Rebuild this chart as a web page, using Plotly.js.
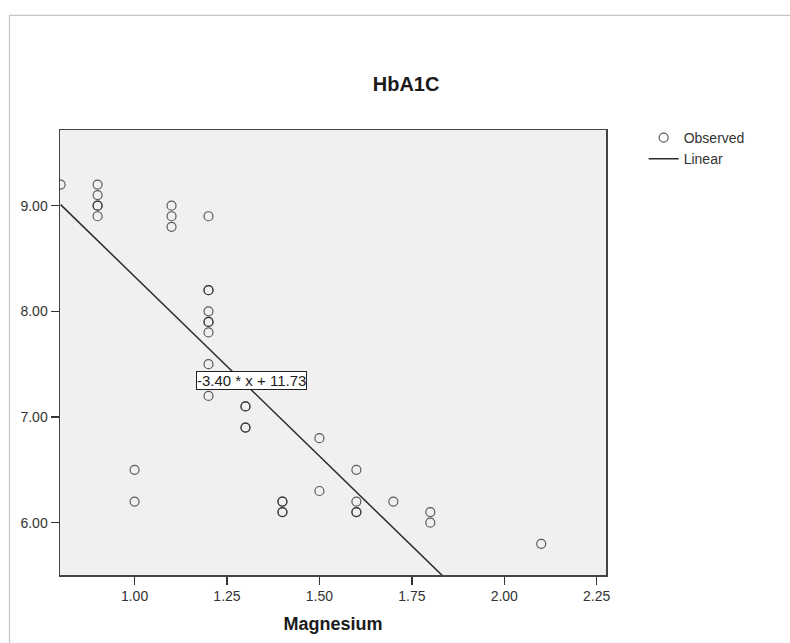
<!DOCTYPE html>
<html>
<head>
<meta charset="utf-8">
<script src="https://cdn.plot.ly/plotly-3.0.1.min.js"></script>
<style>
  html, body { margin: 0; padding: 0; background: #ffffff; }
  #chart { width: 790px; height: 643px; }
</style>
</head>
<body>
<div id="chart"></div>
<script>
// Observed values (duplicates = overlapping cases drawn darker)
const magnesium = [0.8, 0.9, 0.9, 0.9, 0.9, 0.9, 1.0, 1.0, 1.1, 1.1, 1.1,
  1.2, 1.2, 1.2, 1.2, 1.2, 1.2, 1.2, 1.2, 1.2,
  1.3, 1.3, 1.3, 1.3, 1.4, 1.4, 1.4, 1.4,
  1.5, 1.5, 1.6, 1.6, 1.6, 1.6, 1.7, 1.8, 1.8, 2.1];
const hba1c = [9.2, 9.2, 9.1, 9.0, 9.0, 8.9, 6.5, 6.2, 9.0, 8.9, 8.8,
  8.9, 8.2, 8.2, 8.0, 7.9, 7.9, 7.8, 7.5, 7.2,
  7.1, 7.1, 6.9, 6.9, 6.2, 6.2, 6.1, 6.1,
  6.8, 6.3, 6.5, 6.2, 6.1, 6.1, 6.2, 6.1, 6.0, 5.8];

// Linear fit reported in the chart
const slope = -3.40;
const intercept = 11.73;

const xTicks = [1.00, 1.25, 1.50, 1.75, 2.00, 2.25];
const yTicks = [6.00, 7.00, 8.00, 9.00];

const xMin = Math.min(...magnesium);
const xMax = Math.max(...magnesium);
const fitX = [xMin, xMax];
const fitY = fitX.map(v => slope * v + intercept);

const FONT = 'Arial, "Liberation Sans", sans-serif';

const traces = [
  {
    type: 'scatter', mode: 'markers', name: 'Observed',
    x: magnesium, y: hba1c,
    marker: { symbol: 'circle-open', size: 9, color: 'rgba(40,40,40,0.75)', line: { width: 1.2, color: 'rgba(40,40,40,0.75)' } },
    hoverinfo: 'x+y'
  },
  {
    type: 'scatter', mode: 'lines', name: 'Linear',
    x: fitX, y: fitY,
    line: { color: '#2b2b2b', width: 1.5 },
    hoverinfo: 'skip'
  }
];

const layout = {
  width: 790, height: 643,
  margin: { l: 60, r: 184, t: 130, b: 68 },
  paper_bgcolor: '#ffffff',
  plot_bgcolor: '#f0f0f0',
  font: { family: FONT, size: 14, color: '#333333' },
  title: {
    text: 'HbA1C',
    font: { family: FONT, size: 20, weight: 'bold', color: '#1a1a1a' },
    xref: 'container', yref: 'container',
    x: 0.514, y: 1 - 83.5 / 643, xanchor: 'center', yanchor: 'middle'
  },
  xaxis: {
    range: [0.7983, 2.2752],
    tickvals: xTicks, tickformat: '.2f',
    ticks: 'outside', ticklen: 8, tickwidth: 1.5, tickcolor: '#333333',
    showline: true, linecolor: '#444444', linewidth: 1.5, mirror: true,
    showgrid: false, zeroline: false,
    tickfont: { family: FONT, size: 14, color: '#333333' },
    title: { text: 'Magnesium', font: { family: FONT, size: 18, weight: 'bold', color: '#1a1a1a' }, standoff: 14 }
  },
  yaxis: {
    range: [5.505, 9.716],
    tickvals: yTicks, tickformat: '.2f',
    ticks: 'outside', ticklen: 8, tickwidth: 1.5, tickcolor: '#333333',
    showline: true, linecolor: '#444444', linewidth: 1.5, mirror: true,
    showgrid: false, zeroline: false,
    tickfont: { family: FONT, size: 14, color: '#333333' }
  },
  legend: {
    x: 1.069, xanchor: 'left',
    y: 1.018, yanchor: 'top',
    bgcolor: 'rgba(0,0,0,0)',
    font: { family: FONT, size: 14, color: '#333333' },
    tracegroupgap: 0
  },
  annotations: [
    {
      xref: 'x', yref: 'y', x: 1.3168, y: 7.347,
      text: slope.toFixed(2) + ' * x + ' + intercept.toFixed(2),
      showarrow: false,
      font: { family: FONT, size: 15, color: '#222222' },
      bgcolor: '#ffffff', bordercolor: '#222222', borderwidth: 1, borderpad: 0
    }
  ],
  shapes: [
    {
      type: 'rect', xref: 'paper', yref: 'paper', layer: 'below',
      x0: -0.0925, x1: 1.6, y0: -0.5, y1: 1.2578,
      line: { color: '#c4c4c4', width: 1.2 }, fillcolor: 'rgba(0,0,0,0)'
    }
  ],
  showlegend: true
};

Plotly.newPlot('chart', traces, layout, { displayModeBar: false, staticPlot: true });
</script>
</body>
</html>
